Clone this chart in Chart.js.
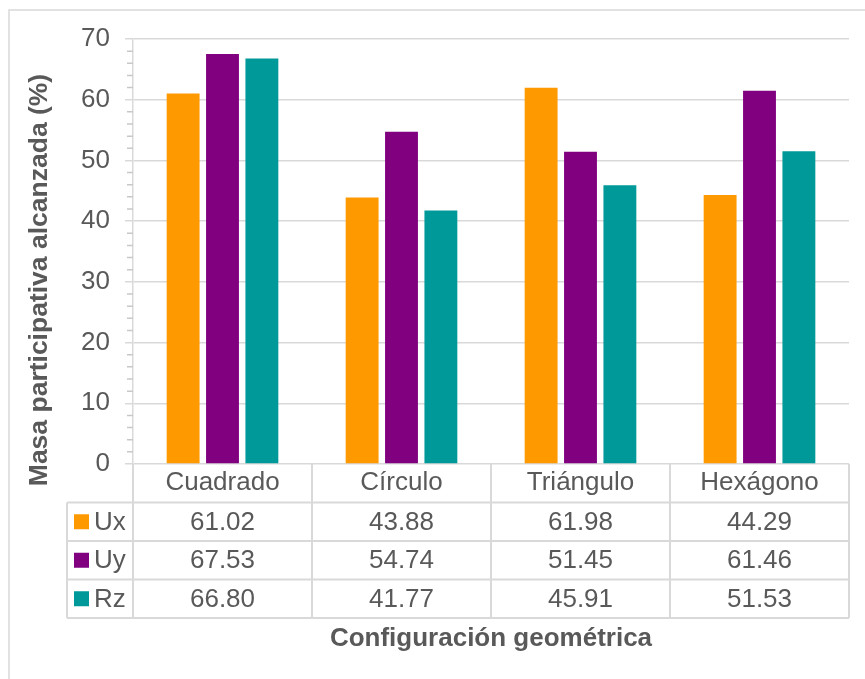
<!DOCTYPE html>
<html><head><meta charset="utf-8">
<script src="https://cdn.jsdelivr.net/npm/chart.js@4.4.0/dist/chart.umd.min.js"></script>
<style>html,body{margin:0;padding:0;background:#fff;} #wrap{width:865px;height:679px;position:relative;}</style>
</head><body><div id="wrap"><canvas id="c" width="865" height="679"></canvas></div>
<script>
const categories = ['Cuadrado', 'Círculo', 'Triángulo', 'Hexágono'];
const seriesNames = ['Ux', 'Uy', 'Rz'];
const ux = [61.02, 43.88, 61.98, 44.29];
const uy = [67.53, 54.74, 51.45, 61.46];
const rz = [66.80, 41.77, 45.91, 51.53];
const yTicks = [0, 10, 20, 30, 40, 50, 60, 70];
const yTitle = 'Masa participativa alcanzada (%)';
const xTitle = 'Configuración geométrica';

const seriesValues = [ux, uy, rz];
const colors = ['#FF9900', '#800080', '#009999'];
const FONT = '"Liberation Sans", Arial, sans-serif';
const TXT = '#595959';
const LINE = '#d9d9d9';

const tablePlugin = {
  id: 'tbl',
  beforeDraw(chart) {
    const ctx = chart.ctx;
    ctx.save();
    ctx.fillStyle = '#fff';
    ctx.fillRect(0, 0, chart.width, chart.height);
    ctx.strokeStyle = LINE;
    ctx.lineWidth = 1.5;
    ctx.beginPath();
    ctx.moveTo(9, chart.height);
    ctx.lineTo(9, 10);
    ctx.lineTo(chart.width, 10);
    ctx.stroke();
    ctx.restore();
  },
  afterDraw(chart) {
    const ctx = chart.ctx;
    const ca = chart.chartArea;
    const xs = chart.scales.x, ys = chart.scales.y;
    ctx.save();
    // minor ticks
    ctx.strokeStyle = '#c8c8c8';
    ctx.lineWidth = 1.5;
    ctx.beginPath();
    for (let v = yTicks[0]; v <= yTicks[yTicks.length - 1]; v += 2) {
      if (v % 10 === 0) continue;
      const y = ys.getPixelForValue(v);
      ctx.moveTo(ca.left - 6, y);
      ctx.lineTo(ca.left, y);
    }
    ctx.stroke();
    // table
    ctx.strokeStyle = LINE;
    const rowH = 38.5;
    const top = ca.bottom;
    const legendLeft = 67;
    const bounds = [ca.left];
    for (let i = 0; i < categories.length - 1; i++) {
      bounds.push((xs.getPixelForTick(i) + xs.getPixelForTick(i + 1)) / 2);
    }
    bounds.push(ca.right);
    const nRows = seriesNames.length;
    const bottom = top + rowH * (nRows + 1);
    ctx.lineWidth = 2;
    ctx.beginPath();
    bounds.forEach(b => { ctx.moveTo(b, top); ctx.lineTo(b, bottom); });
    ctx.moveTo(legendLeft, top + rowH);
    ctx.lineTo(legendLeft, bottom);
    for (let r = 1; r <= nRows + 1; r++) {
      const y = top + rowH * r;
      ctx.moveTo(legendLeft, y);
      ctx.lineTo(ca.right, y);
    }
    ctx.stroke();
    // rows
    ctx.font = '26px ' + FONT;
    ctx.fillStyle = TXT;
    ctx.textBaseline = 'middle';
    for (let r = 0; r < nRows; r++) {
      const yc = top + rowH * (r + 1) + rowH / 2;
      ctx.fillStyle = colors[r];
      ctx.fillRect(74, yc - 7.5, 15, 15);
      ctx.fillStyle = TXT;
      ctx.textAlign = 'left';
      ctx.fillText(seriesNames[r], 94, yc + 1);
      ctx.textAlign = 'center';
      for (let i = 0; i < categories.length; i++) {
        ctx.fillText(seriesValues[r][i].toFixed(2), xs.getPixelForTick(i), yc + 1);
      }
    }
    // y title
    ctx.translate(40, 280);
    ctx.rotate(-Math.PI / 2);
    ctx.font = 'bold 26.5px ' + FONT;
    ctx.textAlign = 'center';
    ctx.textBaseline = 'middle';
    ctx.fillText(yTitle, 0, 0);
    ctx.restore();
  }
};

new Chart(document.getElementById('c'), {
  type: 'bar',
  data: {
    labels: categories,
    datasets: seriesNames.map((n, i) => ({
      label: n,
      data: seriesValues[i],
      backgroundColor: colors[i],
      borderWidth: 0,
      categoryPercentage: 0.66,
      barPercentage: 0.835
    }))
  },
  options: {
    responsive: false,
    animation: false,
    devicePixelRatio: 1,
    layout: { padding: { left: 0, top: 39, right: 16, bottom: 0 } },
    plugins: { legend: { display: false }, tooltip: { enabled: false } },
    scales: {
      x: {
        grid: { display: false, drawTicks: false },
        border: { display: false },
        ticks: { font: { family: FONT, size: 26, lineHeight: 1.2 }, color: TXT, padding: 3, maxRotation: 0 },
        title: { display: true, text: xTitle, color: TXT, font: { family: FONT, size: 26, weight: 'bold', lineHeight: 1.2 }, padding: { top: 0, bottom: 25 } },
        afterFit(s) { s.height = 215; }
      },
      y: {
        min: yTicks[0],
        max: yTicks[yTicks.length - 1],
        ticks: { stepSize: 10, font: { family: FONT, size: 26 }, color: TXT, padding: 15 },
        grid: { color: LINE, lineWidth: 1.5, tickLength: 8, drawTicks: true },
        border: { color: LINE, width: 1.5 },
        title: { display: false },
        afterFit(s) { s.width = 133; }
      }
    }
  },
  plugins: [tablePlugin]
});
</script>
</body></html>
